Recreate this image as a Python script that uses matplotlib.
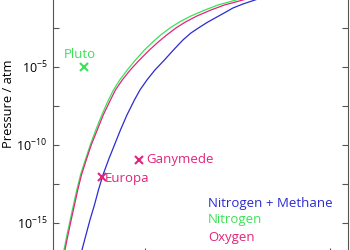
import matplotlib
matplotlib.use("Agg")
import matplotlib.pyplot as plt
from matplotlib.ticker import FixedLocator, FuncFormatter
import numpy as np

plt.rcParams['font.family'] = ['Open Sans', 'DejaVu Sans']
plt.rcParams['mathtext.fontset'] = 'custom'
plt.rcParams['mathtext.rm'] = 'Open Sans'
plt.rcParams['mathtext.it'] = 'Open Sans:italic'

# Data (x in arbitrary units; pressures given as log10(atm))
n2ch4_x = [6.568, 6.784, 7.0, 7.243, 7.459, 7.703, 8.0, 8.324, 8.649, 9.0, 9.405, 9.703,
           10.081, 10.514, 11.027, 11.514, 12.027, 12.459, 12.946, 13.378, 13.865, 14.351,
           14.730, 15.270, 15.919, 16.730, 17.811]
n2ch4_logp = [-16.731, -15.769, -14.808, -13.846, -12.885, -11.923, -10.962, -10.0, -9.038,
              -8.077, -7.115, -6.474, -5.833, -5.192, -4.551, -3.910, -3.269, -2.821, -2.436,
              -2.115, -1.795, -1.474, -1.218, -0.962, -0.705, -0.385, 0.0]

n2_x = [5.595, 5.757, 5.930, 6.108, 6.286, 6.486, 6.746, 7.016, 7.314, 7.638, 8.0, 8.270,
        8.611, 9.016, 9.459, 9.946, 10.395, 10.827, 11.324, 11.838, 12.459, 13.216, 13.919,
        14.892, 15.811, 17.0]
n2_logp = [-16.731, -15.769, -14.808, -13.846, -12.885, -11.923, -10.962, -10.0, -9.038,
           -8.077, -7.115, -6.474, -5.833, -5.192, -4.551, -3.910, -3.397, -2.949, -2.500,
           -2.115, -1.731, -1.346, -1.026, -0.705, -0.385, 0.0]

o2_x = [5.649, 5.811, 5.984, 6.162, 6.340, 6.540, 6.800, 7.070, 7.395, 7.719, 8.108, 8.378,
        8.746, 9.178, 9.675, 10.216, 10.692, 11.151, 11.648, 12.162, 12.783, 13.540, 14.270,
        15.270, 16.216, 17.432]
o2_logp = n2_logp

bodies = ["Pluto", "Europa", "Ganymede"]
body_x = [6.68, 7.65, 9.65]
body_logp = [-5.0, -12.05, -10.96]

legend_labels = ["Nitrogen + Methane", "Nitrogen", "Oxygen"]

c_blue = "#2b2bd0"
c_green = "#3ee05a"
c_mag = "#e0257a"

fig = plt.figure(figsize=(3.5, 2.5), dpi=100)
ax = fig.add_axes([53/350, -4/250, 295/350, 265/250])

ax.plot(n2ch4_x, np.power(10.0, n2ch4_logp), color=c_blue, lw=0.9)
ax.plot(n2_x, np.power(10.0, n2_logp), color=c_green, lw=0.9)
ax.plot(o2_x, np.power(10.0, o2_logp), color=c_mag, lw=0.9)

ax.set_yscale('log')
ax.set_xlim(5, 20.95)
ax.set_ylim(1e-17, 1.0)

body_p = np.power(10.0, body_logp)
body_c = [c_green, c_mag, c_mag]
for bx, bp, bc in zip(body_x, body_p, body_c):
    ax.plot(bx, bp, 'x', color=bc, ms=6, mew=1.5)

fs = 9.5
ax.annotate(bodies[0], (body_x[0], body_p[0]), xytext=(-3, 4), textcoords='offset points',
            ha='center', va='bottom', color=c_green, fontsize=fs)
ax.annotate(bodies[1], (body_x[1], body_p[1]), xytext=(2, -1), textcoords='offset points',
            ha='left', va='center', color=c_mag, fontsize=fs)
ax.annotate(bodies[2], (body_x[2], body_p[2]), xytext=(5, 0), textcoords='offset points',
            ha='left', va='center', color=c_mag, fontsize=fs)

for i, (lab, col) in enumerate(zip(legend_labels, [c_blue, c_green, c_mag])):
    fig.text(208/350, 1 - (203 + 17*i)/250, lab, color=col, fontsize=fs, ha='left', va='center')

exps = np.arange(-17.5, 0.1, 2.5)
ax.yaxis.set_major_locator(FixedLocator(np.power(10.0, exps)))
ax.yaxis.set_minor_locator(FixedLocator([]))
def fmt(v, pos):
    e = np.log10(v)
    if abs(e - round(e)) < 1e-6 and int(round(e)) % 5 == 0 and int(round(e)) != 0:
        return r'$10^{%d}$' % int(round(e))
    return ''
ax.yaxis.set_major_formatter(FuncFormatter(fmt))
ax.set_xticks([10, 20])
ax.set_xticklabels([])

ax.tick_params(direction='in', length=4, width=0.8, colors='#555555', labelcolor='black',
               labelsize=9, right=True, top=True, pad=4)
for s in ax.spines.values():
    s.set_color('#555555')
    s.set_linewidth(0.8)

fig.text(9/350, 1 - 104/250, "Pressure / atm", rotation=90, ha='center', va='center', fontsize=9.3)

fig.savefig("out.png", dpi=100)
